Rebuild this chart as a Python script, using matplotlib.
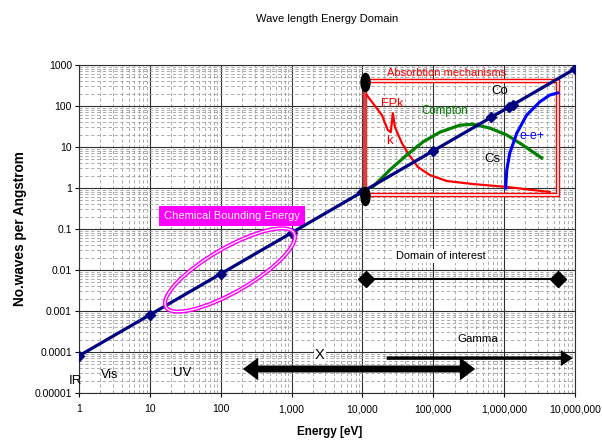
import matplotlib
matplotlib.use("Agg")
import matplotlib.pyplot as plt
from matplotlib.patches import Ellipse, Rectangle, ArrowStyle
from matplotlib.path import Path
from matplotlib.transforms import Affine2D
from matplotlib.ticker import FixedLocator, FuncFormatter, LogLocator, NullFormatter

plt.rcParams['font.family'] = ['Liberation Sans', 'DejaVu Sans']

# wave number line (1/lambda in 1/Angstrom) with marked energies
energy = [1, 10, 100, 1000, 1e4, 1e5, 6.62e5, 1.173e6, 1.332e6, 1e7]
waves = [8.07e-5, 8.07e-4, 8.07e-3, 8.07e-2, 0.807, 8.07, 53.4, 94.6, 107.4, 807]

# absorption mechanisms
photo_e = [1.15e4, 1.4e4, 1.88e4, 2.28e4, 2.51e4, 2.69e4, 2.87e4, 3.6e4, 4.37e4,
           6.05e4, 8.93e4, 1.55e5, 3.61e5, 1.09e6, 4.4e6]
photo_y = [185, 118, 60, 26, 23, 67, 31, 12.5, 7.1, 3.25, 2.07, 1.48, 1.25, 1.06, 0.80]
compton_e = [1.4e4, 2.43e4, 4.23e4, 7.11e4, 1.24e5, 2.37e5, 3.61e5, 6.27e5, 1.09e6,
             1.83e6, 3.39e6]
compton_y = [1.06, 2.75, 6.4, 13.2, 23, 34, 36, 29, 19.6, 11.2, 5.4]
pair_e = [1.05e6, 1.09e6, 1.2e6, 1.51e6, 2.08e6, 3.17e6, 4.4e6, 5.7e6]
pair_y = [1.0, 2.75, 7.1, 21.9, 60, 125, 185, 208]

box_e = [1.1e4, 5.7e6]
box_y = [0.68, 408]
edge_y = [0.64, 385]
domain_e = [1.12e4, 5.7e6]
domain_y = [0.006, 0.006]
x_arrow_e = [206, 3.9e5]
x_arrow_y = 3.85e-5
gamma_arrow_e = [2.2e4, 9.3e6]
gamma_arrow_y = 7.1e-5

x_ticks = [1, 10, 100, 1000, 1e4, 1e5, 1e6, 1e7]
y_ticks = [1e-5, 1e-4, 1e-3, 1e-2, 1e-1, 1, 10, 100, 1000]
y_tick_labels = ['0.00001', '0.0001', '0.001', '0.01', '0.1', '1', '10', '100', '1000']

fig = plt.figure(figsize=(6.02, 4.40), dpi=100)
W, H = 496, 328
ax = fig.add_axes([79 / 602, 47 / 440, W / 602, H / 440])
ax.set_xscale('log')
ax.set_yscale('log')
ax.set_xlim(1, 1e7)
ax.set_ylim(1e-5, 1000)

ax.xaxis.set_major_locator(FixedLocator(x_ticks))
ax.xaxis.set_major_formatter(FuncFormatter(lambda v, p: '{:,}'.format(int(round(v)))))
ax.yaxis.set_major_locator(FixedLocator(y_ticks))
ax.set_yticklabels(y_tick_labels)
for axis in (ax.xaxis, ax.yaxis):
    axis.set_minor_locator(LogLocator(base=10, subs=range(2, 10), numticks=20))
    axis.set_minor_formatter(NullFormatter())
ax.tick_params(which='major', length=3, labelsize=7.5, pad=2)
ax.tick_params(axis='x', which='major', pad=5)
ax.tick_params(which='minor', length=0)
ax.grid(which='major', color='#303030', lw=0.8)
ax.grid(which='minor', color='#a0a0a0', lw=0.6, ls=(0, (4, 3)))
ax.set_axisbelow(True)
for s in ax.spines.values():
    s.set_color('#303030')
    s.set_linewidth(0.8)

ax.set_title('Wave length Energy Domain', fontsize=8, pad=31)
ax.set_xlabel('Energy [eV]', fontsize=8.5, fontweight='bold')
ax.set_ylabel('No.waves per Angstrom', fontsize=9.8, fontweight='bold')
ax.xaxis.set_label_coords(0.506, -0.1)
ax.yaxis.set_label_coords(-0.104, 0.5)

# absorption box: double red outline
box = dict(xy=(box_e[0], box_y[0]), width=box_e[1] - box_e[0], height=box_y[1] - box_y[0])
ax.add_patch(Rectangle(**box, fill=False, ec='red', lw=3.2, zorder=3))
ax.add_patch(Rectangle(**box, fill=False, ec='white', lw=1.2, zorder=3))
ax.plot([box_e[0], box_e[0]], edge_y, color='#d04545', lw=2.6, zorder=3)
oval = Path.unit_circle().transformed(Affine2D().scale(0.5, 1))
ax.plot([box_e[0], box_e[0]], edge_y, ls='none', marker=oval, ms=13, color='black', zorder=6)

ax.plot(photo_e, photo_y, color='red', lw=1.6, zorder=4)
ax.plot(compton_e, compton_y, color='#008000', lw=2.3, zorder=4)
ax.plot(pair_e, pair_y, color='#0000ff', lw=2.2, zorder=4)

ax.plot(energy, waves, color='#000080', lw=2.3, marker='D', ms=5.5, zorder=5)

# domain of interest
ax.plot(domain_e, domain_y, color='black', lw=1.5, marker='D', ms=8, zorder=4)


def px(x, y):
    return (x - 79) / W, (393 - y) / H


def label(x, y, s, **kw):
    ax.text(*px(x, y), s, transform=ax.transAxes, ha='center', va='center', **kw)


label(447, 73, 'Absorbtion mechanisms', color='red', fontsize=8)
label(392, 104, 'FPk', color='red', fontsize=9)
label(389, 141, 'k', color='red', fontsize=9.5)
label(445, 111, 'Compton', color='#008000', fontsize=8.3)
label(500, 91, 'Co', color='black', fontsize=9.5)
label(492, 159, 'Cs', color='black', fontsize=9.5)
label(532, 136, 'e-e+', color='#0000ff', fontsize=9)
label(441, 256, 'Domain of interest', color='black', fontsize=7.9,
      bbox=dict(fc='white', ec='none', pad=1.5))
label(478, 339, 'Gamma', color='black', fontsize=8.2)
label(320, 355, 'X', color='black', fontsize=10.5,
      bbox=dict(fc='white', ec='none', pad=0.5))
label(182, 373, 'UV', color='black', fontsize=9.5)
label(110, 375, 'Vis', color='black', fontsize=9)
label(75, 381, 'IR', color='black', fontsize=9.5)
label(232, 216, 'Chemical Bounding Energy', color='white', fontsize=8,
      bbox=dict(fc='#ff00ff', ec='none', pad=3.5))

# chemical bounding ellipse (drawn in pixel units of the axes)
to_ax = Affine2D().scale(1 / W, 1 / H) + ax.transAxes
ell = dict(xy=(151, 123), width=148, height=44, angle=30, fill=False)
ax.add_patch(Ellipse(**ell, ec='#ff00ff', lw=3, transform=to_ax, zorder=6))
ax.add_patch(Ellipse(**ell, ec='white', lw=0.9, transform=to_ax, zorder=6))

# spectrum arrows
x_mid = (x_arrow_e[0] * x_arrow_e[1]) ** 0.5
big = ArrowStyle.Simple(head_length=11, head_width=16.5, tail_width=5)
for end in x_arrow_e:
    ax.annotate('', xy=(end, x_arrow_y), xytext=(x_mid, x_arrow_y),
                arrowprops=dict(arrowstyle=big, mutation_scale=1, fc='black', ec='none',
                                shrinkA=0, shrinkB=0), zorder=5)
ax.annotate('', xy=(gamma_arrow_e[1], gamma_arrow_y), xytext=(gamma_arrow_e[0], gamma_arrow_y),
            arrowprops=dict(arrowstyle=ArrowStyle.Simple(head_length=8.6, head_width=11.5,
                                                         tail_width=2.5),
                            mutation_scale=1, fc='black', ec='none', shrinkA=0, shrinkB=0),
            zorder=5)

fig.savefig('out.png', dpi=100)
